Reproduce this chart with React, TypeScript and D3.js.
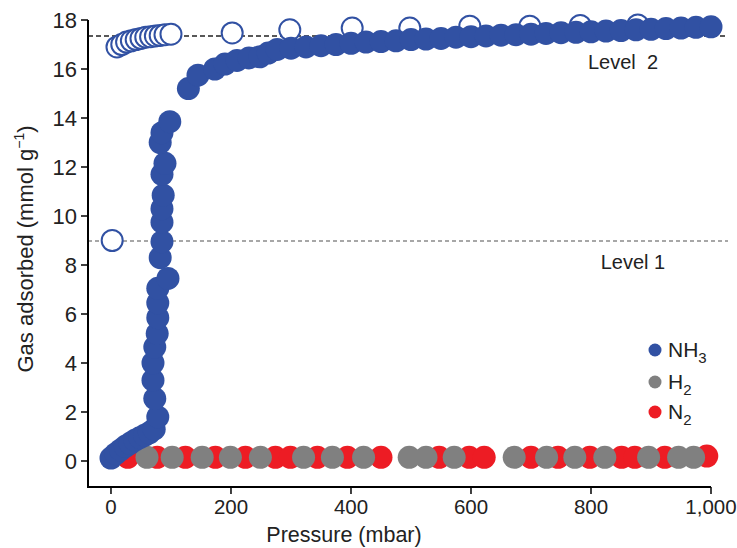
import React from 'react';
import * as d3 from 'd3';

// NH3 adsorption (filled)
const nh3AdsP = [0, 8, 16, 24, 32, 40, 48, 56, 64, 72, 78, 73, 70, 70, 73, 77, 78, 78, 78, 95, 82, 85, 85, 85, 87, 85, 90, 82, 85, 98,
  129, 145, 173, 190, 210, 230, 248, 262, 277, 300, 325, 350, 375, 400, 425, 450, 475, 500, 525, 550, 575, 600, 625, 650, 675, 700,
  725, 750, 775, 800, 825, 850, 875, 900, 925, 950, 975, 1000];
const nh3AdsV = [0.12, 0.3, 0.45, 0.6, 0.72, 0.85, 0.95, 1.05, 1.15, 1.3, 1.8, 2.55, 3.3, 4.0, 4.65, 5.2, 5.85, 6.45, 7.05, 7.45, 8.3, 8.95, 9.75, 10.3, 10.85, 11.7, 12.15, 13.0, 13.4, 13.85,
  15.2, 15.75, 16.0, 16.2, 16.35, 16.45, 16.5, 16.65, 16.8, 16.85, 16.9, 16.95, 17.0, 17.05, 17.1, 17.12, 17.15, 17.2, 17.22, 17.25, 17.3, 17.32, 17.35, 17.38, 17.4, 17.42,
  17.45, 17.48, 17.5, 17.52, 17.55, 17.57, 17.6, 17.62, 17.65, 17.67, 17.7, 17.72];

// NH3 desorption (open)
const nh3DesP = [2, 10, 18, 26, 34, 42, 50, 58, 66, 74, 82, 90, 100, 202, 298, 402, 498, 598, 698, 782, 878];
const nh3DesV = [9.0, 16.9, 17.0, 17.1, 17.15, 17.2, 17.25, 17.3, 17.32, 17.35, 17.37, 17.4, 17.42, 17.47, 17.6, 17.67, 17.67, 17.75, 17.75, 17.78, 17.8];

// H2 (grey)
const h2P = [60, 102, 152, 199, 249, 321, 369, 421, 497, 525, 572, 672, 726, 773, 823, 896, 946, 971];
const h2V = [0.15, 0.15, 0.15, 0.15, 0.15, 0.15, 0.15, 0.15, 0.15, 0.15, 0.15, 0.15, 0.15, 0.15, 0.15, 0.15, 0.15, 0.15];

// N2 (red)
const n2P = [28, 77, 124, 174, 224, 274, 299, 344, 394, 450, 547, 597, 622, 700, 745, 798, 851, 873, 923, 993];
const n2V = [0.15, 0.15, 0.15, 0.15, 0.15, 0.15, 0.15, 0.15, 0.15, 0.15, 0.15, 0.15, 0.15, 0.15, 0.15, 0.15, 0.15, 0.15, 0.15, 0.2];

const xTicks = [0, 200, 400, 600, 800, 1000];
const yTicks = [0, 2, 4, 6, 8, 10, 12, 14, 16, 18];
const levelValues = [8.98, 17.35];
const levelLabels = ['Level 1', 'Level\u00a0 2'];
const legendNames = ['NH', 'H', 'N'];
const legendSubs = ['3', '2', '2'];

const BLUE = '#3151a3';
const GREY = '#808080';
const RED = '#ed1c24';
const FONT = '"Liberation Sans", Arial, sans-serif';

export default function App() {
  const W = 737, H = 548;
  const x = d3.scaleLinear().domain([-38.3, 1000]).range([88, 711]);
  const y = d3.scaleLinear().domain([-1, 18]).range([485.5, 20]);
  const fmt = d3.format(',');
  const axisY = 487;
  const left = x(-38.3);
  const R = 11.5;
  const legendColors = [BLUE, GREY, RED];
  const legendY = [350, 382, 412];
  const FS = 22;

  return (
    <svg width={W} height={H} style={{ position: 'absolute', left: 0, top: 0, fontFamily: FONT }}>
      <rect width={W} height={H} fill="#fff" />
      {/* level lines */}
      <line x1={left} x2={728} y1={y(levelValues[0])} y2={y(levelValues[0])} stroke="#8a8a8a" strokeWidth={1.5} strokeDasharray="4,3" />
      <line x1={left} x2={728} y1={y(levelValues[1])} y2={y(levelValues[1])} stroke="#222" strokeWidth={1.5} strokeDasharray="5,3" />
      <text x={633} y={y(levelValues[0]) + 28} fontSize={20} textAnchor="middle" fill="#222">{levelLabels[0]}</text>
      <text x={623} y={y(levelValues[1]) + 33} fontSize={20} textAnchor="middle" fill="#222">{levelLabels[1]}</text>

      {/* N2 */}
      {n2P.map((p, i) => <circle key={'n' + i} cx={x(p)} cy={y(n2V[i])} r={R} fill={RED} />)}
      {/* H2 */}
      {h2P.map((p, i) => <circle key={'h' + i} cx={x(p)} cy={y(h2V[i])} r={R} fill={GREY} />)}
      {/* NH3 desorption */}
      {nh3DesP.map((p, i) => <circle key={'d' + i} cx={x(p)} cy={y(nh3DesV[i])} r={10.5} fill="#fff" stroke={BLUE} strokeWidth={2} />)}
      {/* NH3 adsorption */}
      {nh3AdsP.map((p, i) => <circle key={'a' + i} cx={x(p)} cy={y(nh3AdsV[i])} r={R} fill={BLUE} />)}

      {/* axes */}
      <path d={`M${left},${y(18)}V${axisY}H${x(1000)}`} fill="none" stroke="#000" strokeWidth={2} />
      {yTicks.map(t => (
        <g key={'yt' + t}>
          <line x1={left - 7} x2={left} y1={y(t)} y2={y(t)} stroke="#000" strokeWidth={1.5} />
          <text x={left - 11} y={y(t)} dy="0.35em" fontSize={FS} textAnchor="end" fill="#222">{t}</text>
        </g>
      ))}
      {xTicks.map(t => (
        <g key={'xt' + t}>
          <line x1={x(t)} x2={x(t)} y1={axisY} y2={axisY + 7} stroke="#000" strokeWidth={1.5} />
          <text x={x(t)} y={axisY + 20} dy="0.35em" fontSize={20.5} textAnchor="middle" fill="#222">{fmt(t)}</text>
        </g>
      ))}
      <text x={344} y={542} fontSize={21.5} textAnchor="middle" fill="#222">Pressure (mbar)</text>
      <text transform={`translate(33,249) rotate(-90)`} fontSize={FS} textAnchor="middle" fill="#222">
        Gas adsorbed (mmol g<tspan fontSize={14} dy={-9}>−1</tspan><tspan dy={9}>)</tspan>
      </text>

      {/* legend */}
      {legendNames.map((n, i) => (
        <g key={'lg' + i}>
          <circle cx={655} cy={legendY[i]} r={6.5} fill={legendColors[i]} />
          <text x={668} y={legendY[i] + 7} fontSize={21} fill="#222">{n}<tspan fontSize={15} dy={6}>{legendSubs[i]}</tspan></text>
        </g>
      ))}
    </svg>
  );
}
